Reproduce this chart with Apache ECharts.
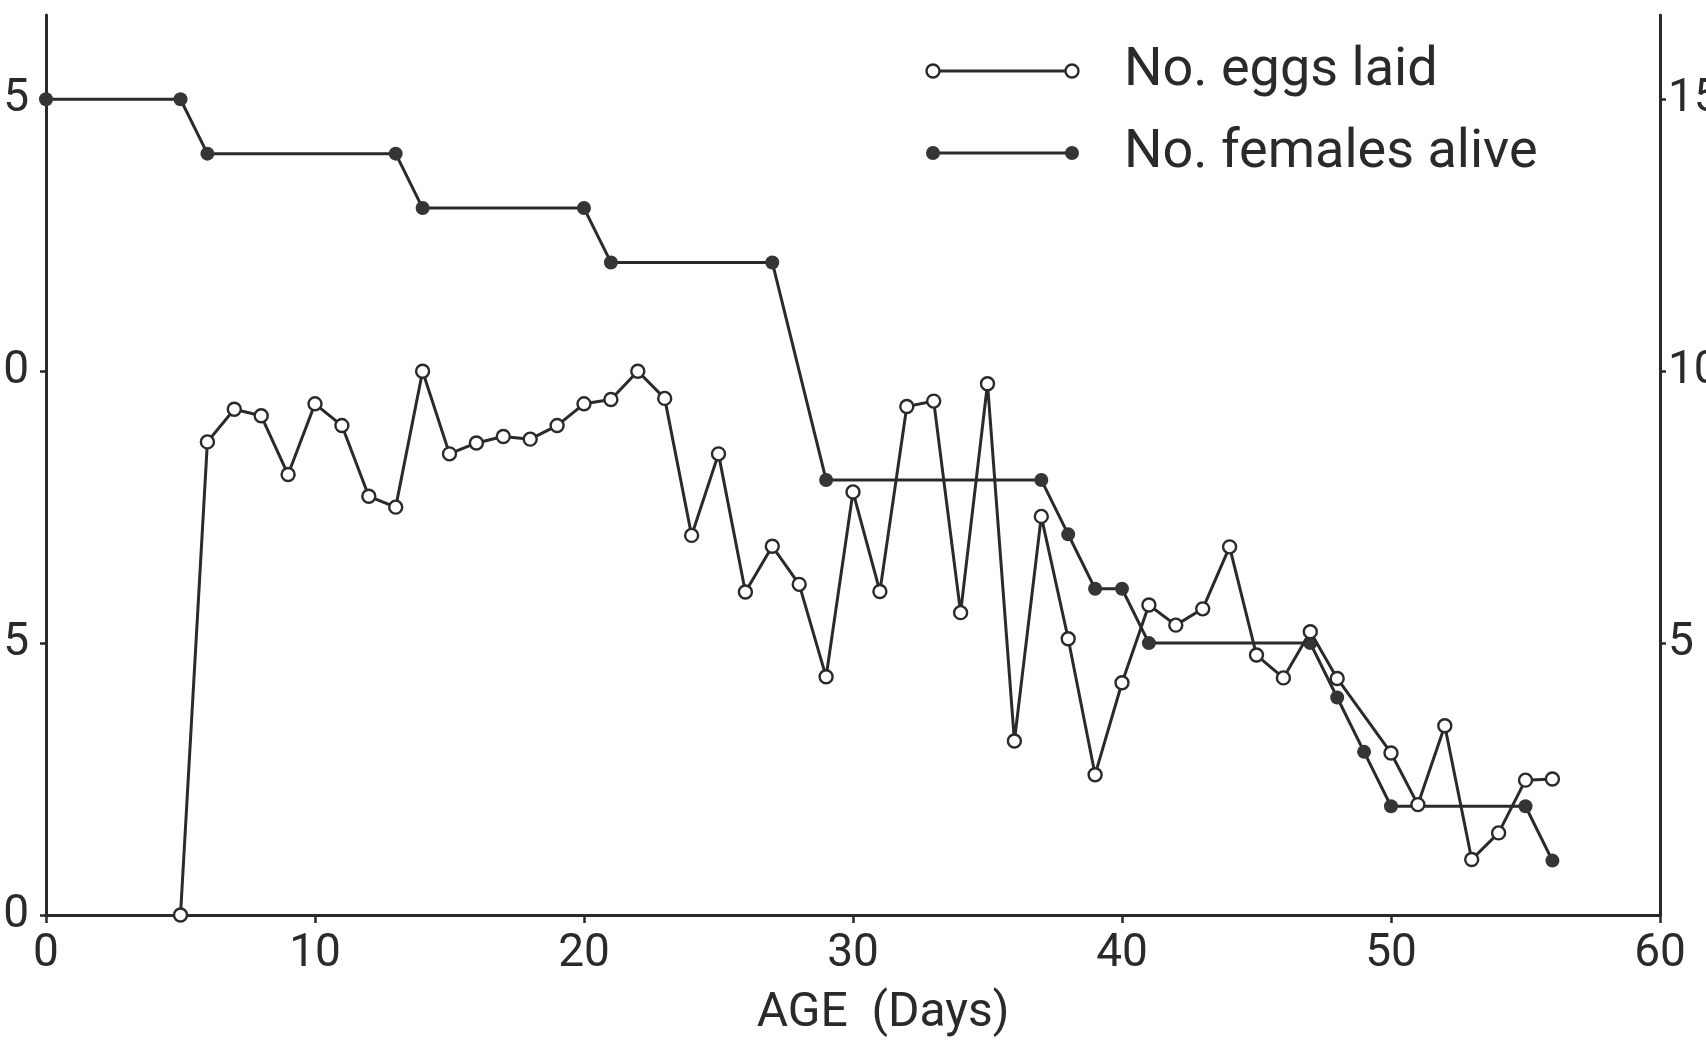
<!DOCTYPE html>
<html>
<head>
<meta charset="utf-8">
<script src="https://cdn.jsdelivr.net/npm/echarts@6/dist/echarts.min.js"></script>
<style>
html,body{margin:0;padding:0;background:#fff;overflow:hidden}
#chart{width:1706px;height:1040px}
</style>
</head>
<body>
<div id="chart"></div>
<script>
// ---- data ----
const eggDays = [5,6,7,8,9,10,11,12,13,14,15,16,17,18,19,20,21,22,23,24,25,26,27,28,29,30,31,32,33,34,35,36,37,38,39,40,41,42,43,44,45,46,47,48,50,51,52,53,54,55,56];
const eggsLaid = [0,8.7,9.3,9.18,8.1,9.4,9.0,7.7,7.5,10.0,8.48,8.68,8.8,8.75,9.0,9.4,9.48,10.0,9.5,6.98,8.48,5.94,6.78,6.08,4.38,7.78,5.95,9.35,9.45,5.56,9.77,3.2,7.33,5.08,2.58,4.27,5.7,5.33,5.63,6.77,4.78,4.36,5.21,4.35,2.98,2.03,3.48,1.02,1.51,2.48,2.5];
const femaleDays = [0,5,6,13,14,20,21,27,29,37,38,39,40,41,47,48,49,50,55,56];
const femalesAlive = [15,15,14,14,13,13,12,12,8,8,7,6,6,5,5,4,3,2,2,1];
const leftTicks = [0,5,10,15];
const rightTicks = [5,10,15];
const seriesNames = ['No. eggs laid','No. females alive'];
const xName = 'AGE  (Days)';

const INK = '#2a2a2a';
const FONT = 'Roboto, "Noto Sans", sans-serif';

const chart = echarts.init(document.getElementById('chart'), null, {renderer:'canvas'});

function pairs(xs, ys){ return xs.map((x,i)=>[x, ys[i]]); }

const yCommon = {
  type:'value', min:0, max:16.55,
  axisLine:{show:true, lineStyle:{color:INK, width:3}},
  axisTick:{show:true, inside:false, length:6, lineStyle:{color:INK, width:2.5}},
  splitLine:{show:false},
  axisLabel:{color:INK, fontFamily:FONT, fontSize:46, margin:10}
};

chart.setOption({
  backgroundColor:'#ffffff',
  animation:false,
  grid:{left:46, right:46, top:15, bottom:125, containLabel:false, outerBoundsMode:'none'},
  xAxis:{
    type:'value', min:0, max:60, interval:10,
    name:xName, nameLocation:'middle', nameGap:75,
    nameTextStyle:{color:INK, fontFamily:FONT, fontSize:48, padding:[0,0,0,60]},
    axisLine:{show:true, lineStyle:{color:INK, width:3}},
    axisTick:{show:true, inside:false, length:8, lineStyle:{color:INK, width:2.5}},
    splitLine:{show:false},
    axisLabel:{color:INK, fontFamily:FONT, fontSize:46, margin:16}
  },
  yAxis:[
    Object.assign({}, yCommon, {
      position:'left',
      axisTick:Object.assign({}, yCommon.axisTick, {customValues:leftTicks}),
      axisLabel:Object.assign({}, yCommon.axisLabel, {customValues:leftTicks, margin:17})
    }),
    Object.assign({}, yCommon, {
      position:'right',
      axisTick:Object.assign({}, yCommon.axisTick, {customValues:rightTicks}),
      axisLabel:Object.assign({}, yCommon.axisLabel, {customValues:rightTicks, margin:8})
    })
  ],
  series:[
    {
      name:seriesNames[1], type:'line', yAxisIndex:1,
      data:pairs(femaleDays, femalesAlive),
      symbol:'circle', symbolSize:14,
      lineStyle:{color:INK, width:3},
      itemStyle:{color:'#353535', borderColor:'#353535', borderWidth:0},
      z:2
    },
    {
      name:seriesNames[0], type:'line', yAxisIndex:0,
      data:pairs(eggDays, eggsLaid),
      symbol:'circle', symbolSize:13,
      lineStyle:{color:INK, width:3},
      itemStyle:{color:'#ffffff', borderColor:INK, borderWidth:2.4},
      z:3
    }
  ],
  graphic:[
    {type:'line', shape:{x1:933,y1:71,x2:1072,y2:71}, style:{stroke:INK, lineWidth:3}},
    {type:'circle', shape:{cx:933,cy:71,r:6.5}, style:{fill:'#fff', stroke:INK, lineWidth:2.4}},
    {type:'circle', shape:{cx:1072,cy:71,r:6.5}, style:{fill:'#fff', stroke:INK, lineWidth:2.4}},
    {type:'text', x:1124, y:71, style:{text:seriesNames[0], fill:INK, font:'54px '+FONT, textVerticalAlign:'middle', verticalAlign:'middle'}},
    {type:'line', shape:{x1:933,y1:153,x2:1072,y2:153}, style:{stroke:INK, lineWidth:3}},
    {type:'circle', shape:{cx:933,cy:153,r:7}, style:{fill:'#353535'}},
    {type:'circle', shape:{cx:1072,cy:153,r:7}, style:{fill:'#353535'}},
    {type:'text', x:1124, y:153, style:{text:seriesNames[1], fill:INK, font:'54px '+FONT, textVerticalAlign:'middle', verticalAlign:'middle'}}
  ]
});
</script>
</body>
</html>
